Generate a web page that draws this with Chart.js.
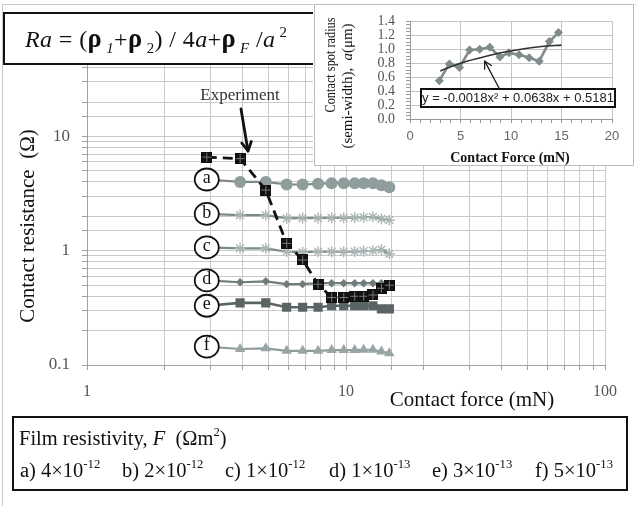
<!DOCTYPE html>
<html>
<head>
<meta charset="utf-8">
<script src="https://cdn.jsdelivr.net/npm/chart.js@4.4.1/dist/chart.umd.min.js"></script>
<style>
html,body{margin:0;padding:0;background:#fff;}
#wrap{position:relative;width:638px;height:513px;overflow:hidden;background:#fff;}
#main{position:absolute;left:0;top:0;}
#inset{position:absolute;left:313px;top:2px;}
</style>
</head>
<body>
<div id="wrap">
<canvas id="main" width="638" height="513"></canvas>
<canvas id="inset" width="322" height="164"></canvas>
</div>
<script>
// ---------- data ----------
const forces = [2.9, 3.9, 4.9, 5.9, 6.8, 7.8, 8.8, 9.8, 10.8, 11.7, 12.7, 13.7, 14.7];
const experiment = [6.6, 6.4, 3.4, 1.16, 0.83, 0.51, 0.39, 0.39, 0.40, 0.40, 0.41, 0.47, 0.50];
const seriesA = [4.2, 4.0, 4.0, 3.8, 3.8, 3.85, 3.9, 3.9, 3.9, 3.9, 3.9, 3.75, 3.6];
const seriesB = [2.1, 2.05, 2.05, 1.92, 1.93, 1.93, 1.94, 1.94, 1.95, 1.96, 1.98, 1.9, 1.85];
const seriesC = [1.07, 1.05, 1.05, 0.98, 0.97, 0.98, 0.98, 0.98, 0.98, 0.99, 1.0, 1.02, 0.94];
const seriesD = [0.55, 0.53, 0.54, 0.51, 0.51, 0.52, 0.52, 0.52, 0.52, 0.52, 0.52, 0.52, 0.50];
const seriesE = [0.33, 0.35, 0.35, 0.32, 0.32, 0.32, 0.33, 0.33, 0.33, 0.33, 0.33, 0.31, 0.31];
const seriesF = [0.145, 0.138, 0.14, 0.133, 0.133, 0.133, 0.135, 0.135, 0.135, 0.136, 0.136, 0.131, 0.127];
const xTickLabels = {1: '1', 10: '10', 100: '100'};
const yTickLabels = {0.1: '0.1', 1: '1', 10: '10'};

const insetForce = [2.9, 3.9, 4.9, 5.9, 6.9, 7.9, 8.9, 9.8, 10.8, 11.8, 12.8, 13.8, 14.7];
const insetRadius = [0.55, 0.79, 0.74, 0.99, 1.0, 1.03, 0.89, 0.95, 0.92, 0.88, 0.83, 1.11, 1.24];
const trendForce = [3, 5, 7, 9, 11, 13, 15];
const trendRadius = [0.69, 0.80, 0.88, 0.95, 1.00, 1.04, 1.06];
const trendLabel = 'y = -0.0018x² + 0.0638x + 0.5181';
const legendTitle = 'Film resistivity, ';
const legendItems = [['a) 4×10', '-12'], ['b) 2×10', '-12'], ['c) 1×10', '-12'], ['d) 1×10', '-13'], ['e) 3×10', '-13'], ['f) 5×10', '-13']];

// ---------- helpers ----------
const SERIF = '"Liberation Serif", "Times New Roman", serif';
const SANS = '"Liberation Sans", Arial, sans-serif';
function pts(xs, ys) { return xs.map((x, i) => ({x: x, y: ys[i]})); }
function rich(ctx, x, y, parts, size, family, color) {
  ctx.fillStyle = color || '#000';
  ctx.textBaseline = 'alphabetic';
  ctx.textAlign = 'left';
  for (const p of parts) {
    const s = (p.sub || p.sup) ? size * 0.62 : size * (p.scale || 1);
    ctx.font = (p.style || '') + ' ' + s + 'px ' + family;
    const dy = p.sub ? size * 0.24 : (p.sup ? -size * 0.42 : 0);
    ctx.fillText(p.t, x, y + dy);
    x += ctx.measureText(p.t).width;
  }
  return x;
}
function arrow(ctx, x1, y1, x2, y2, w, head) {
  ctx.save();
  ctx.strokeStyle = '#111'; ctx.lineWidth = w; ctx.lineCap = 'round'; ctx.lineJoin = 'round';
  const a = Math.atan2(y2 - y1, x2 - x1);
  ctx.beginPath(); ctx.moveTo(x1, y1); ctx.lineTo(x2, y2); ctx.stroke();
  ctx.beginPath();
  ctx.moveTo(x2 - head * Math.cos(a - 0.5), y2 - head * Math.sin(a - 0.5));
  ctx.lineTo(x2, y2);
  ctx.lineTo(x2 - head * Math.cos(a + 0.5), y2 - head * Math.sin(a + 0.5));
  ctx.stroke();
  ctx.restore();
}

// experiment marker: black square with faint grid lines
const expMarker = document.createElement('canvas');
expMarker.width = 11; expMarker.height = 11;
(function () {
  const c = expMarker.getContext('2d');
  c.fillStyle = '#111'; c.fillRect(0, 0, 11, 11);
  c.fillStyle = '#777'; c.fillRect(5, 1, 1, 9); c.fillRect(1, 5, 9, 1);
})();

// ---------- main chart ----------
const overlayMain = {
  id: 'overlayMain',
  afterDatasetsDraw(chart) {
    const ctx = chart.ctx;
    chart.data.datasets.forEach((ds, i) => {
      if (!ds.letter) return;
      const p = chart.getDatasetMeta(i).data[0];
      ctx.save();
      ctx.beginPath(); ctx.ellipse(p.x, p.y, 12, 11, 0, 0, Math.PI * 2);
      ctx.fillStyle = '#fff'; ctx.fill();
      ctx.lineWidth = 1.8; ctx.strokeStyle = '#111'; ctx.stroke();
      ctx.fillStyle = '#111'; ctx.font = '18px ' + SERIF;
      ctx.textAlign = 'center'; ctx.textBaseline = 'middle';
      ctx.fillText(ds.letter, p.x, p.y - 1);
      ctx.restore();
    });
  },
  afterDraw(chart) {
    const ctx = chart.ctx;
    ctx.save();
    // figure frame
    ctx.strokeStyle = '#c8c8c8'; ctx.lineWidth = 1;
    ctx.beginPath(); ctx.moveTo(2.5, 506); ctx.lineTo(2.5, 4.5); ctx.lineTo(636, 4.5); ctx.stroke();
    // formula box
    ctx.fillStyle = '#fff'; ctx.fillRect(3, 12, 312, 53);
    ctx.strokeStyle = '#111'; ctx.lineWidth = 2; ctx.strokeRect(4, 13, 310, 51);
    ctx.save();
    ctx.letterSpacing = '0.4px';
    rich(ctx, 25, 47, [
      {t: 'Ra', style: 'italic'}, {t: ' = ('}, {t: 'ρ', style: 'bold', scale: 1.1}, {t: ' 1', style: 'italic', sub: true},
      {t: '+'}, {t: 'ρ', style: 'bold', scale: 1.1}, {t: ' 2', sub: true}, {t: ') / 4'}, {t: 'a', style: 'italic'},
      {t: '+'}, {t: 'ρ', style: 'bold', scale: 1.1}, {t: ' F', style: 'italic', sub: true}, {t: ' /'},
      {t: 'a', style: 'italic'}, {t: ' 2', sup: true}
    ], 24, SERIF, '#111');
    ctx.restore();
    // Experiment annotation
    ctx.fillStyle = '#333'; ctx.font = '17px ' + SERIF; ctx.textAlign = 'center'; ctx.textBaseline = 'middle';
    ctx.fillText('Experiment', 240, 96);
    arrow(ctx, 241, 109, 248, 151, 2.8, 10);
    // axis titles
    ctx.save();
    ctx.translate(28, 226); ctx.rotate(-Math.PI / 2);
    ctx.fillStyle = '#111'; ctx.font = '21px ' + SERIF; ctx.textAlign = 'center'; ctx.textBaseline = 'middle';
    ctx.fillText('Contact resistance  (Ω)', 0, 0);
    ctx.restore();
    ctx.fillStyle = '#111'; ctx.font = '21px ' + SERIF; ctx.textAlign = 'center'; ctx.textBaseline = 'middle';
    ctx.fillText('Contact force (mN)', 472, 400);
    // legend box
    ctx.strokeStyle = '#111'; ctx.lineWidth = 2; ctx.strokeRect(13, 417, 614, 73);
    rich(ctx, 19, 445, [{t: legendTitle}, {t: 'F', style: 'italic'}, {t: '  (Ωm'}, {t: '2', sup: true}, {t: ')'}], 20.5, SERIF, '#111');
    const starts = [20, 122, 225, 329, 432, 535];
    legendItems.forEach((it, i) => {
      rich(ctx, starts[i], 477, [{t: it[0]}, {t: it[1], sup: true}], 20.5, SERIF, '#111');
    });
    ctx.restore();
  }
};

const gridGray = '#c9c9c9';
function modelDs(letter, data, opts) {
  return Object.assign({
    label: letter, letter: letter, data: pts(forces, data), order: 1,
    borderColor: '#7d8a89', borderWidth: 2.2, pointBorderWidth: 0, tension: 0
  }, opts);
}
new Chart(document.getElementById('main'), {
  type: 'line',
  data: {
    datasets: [
      {label: 'Experiment', data: pts(forces, experiment), order: 0, borderColor: '#111', borderWidth: 2.8,
       borderDash: [10, 6], pointStyle: expMarker, pointRadius: 6},
      modelDs('a', seriesA, {pointStyle: 'circle', pointRadius: 6, pointBackgroundColor: '#8f9d9c'}),
      modelDs('b', seriesB, {pointStyle: 'star', pointRadius: 5.5, pointBorderWidth: 1.4, pointBorderColor: '#aab6b5', pointBackgroundColor: '#aab6b5'}),
      modelDs('c', seriesC, {pointStyle: 'star', pointRadius: 5.5, pointBorderWidth: 1.4, pointBorderColor: '#aab6b5', pointBackgroundColor: '#aab6b5'}),
      modelDs('d', seriesD, {pointStyle: 'rectRot', pointRadius: 4.2, pointBackgroundColor: '#6f7c7b', borderColor: '#6f7c7b'}),
      modelDs('e', seriesE, {pointStyle: 'rect', pointRadius: 6.5, pointBackgroundColor: '#5a6464', borderColor: '#5a6464', borderWidth: 2.6}),
      modelDs('f', seriesF, {pointStyle: 'triangle', pointRadius: 6, pointBackgroundColor: '#97a5a4', borderColor: '#8d9b9a'})
    ]
  },
  options: {
    responsive: false, animation: false, devicePixelRatio: 1,
    layout: {padding: {left: 0, top: 20, right: 33, bottom: 108}},
    plugins: {legend: {display: false}, tooltip: {enabled: false}, title: {display: false}},
    scales: {
      x: {
        type: 'logarithmic', min: 1, max: 100,
        afterFit: s => { s.height = 40; },
        border: {color: '#a0a0a0', width: 1},
        grid: {color: gridGray, tickColor: '#a0a0a0', tickLength: 5, lineWidth: 1},
        ticks: {autoSkip: false, maxRotation: 0, padding: 12, color: '#555', font: {family: SERIF, size: 16},
                callback: v => xTickLabels[v] !== undefined ? xTickLabels[v] : ''}
      },
      y: {
        type: 'logarithmic', min: 0.1, max: 100,
        afterFit: s => { s.width = 87; },
        border: {color: '#a0a0a0', width: 1},
        grid: {color: gridGray, tickColor: '#a0a0a0', tickLength: 5, lineWidth: 1},
        ticks: {autoSkip: false, padding: 12, color: '#555', font: {family: SERIF, size: 17},
                callback: v => yTickLabels[v] !== undefined ? yTickLabels[v] : ''}
      }
    }
  },
  plugins: [overlayMain]
});

// ---------- inset chart ----------
function fittedText(ctx, text, cx, cy, targetW, font) {
  ctx.save();
  ctx.font = font;
  const w = ctx.measureText(text).width;
  ctx.translate(cx, cy); ctx.rotate(-Math.PI / 2); ctx.scale(targetW / w, 1);
  ctx.textAlign = 'center'; ctx.textBaseline = 'middle';
  ctx.fillText(text, 0, 0);
  ctx.restore();
}
const isMult = (v, m) => Math.abs(v / m - Math.round(v / m)) < 1e-6;
const overlayInset = {
  id: 'overlayInset',
  beforeDraw(chart) {
    const ctx = chart.ctx;
    ctx.save();
    ctx.fillStyle = '#fff'; ctx.fillRect(0, 0, chart.width, chart.height);
    ctx.strokeStyle = '#bdbdbd'; ctx.lineWidth = 1; ctx.strokeRect(1.5, 2.5, 319, 161);
    ctx.restore();
  },
  afterDraw(chart) {
    const ctx = chart.ctx;
    ctx.save();
    ctx.fillStyle = '#111';
    fittedText(ctx, 'Contact spot radius', 18, 63, 95, '15px ' + SERIF);
    ctx.save();
    ctx.translate(35, 84); ctx.rotate(-Math.PI / 2);
    const parts = [['(semi-width),  ', '15px '], ['a', 'italic 15px '], ['(μm)', '15px ']];
    let tw = 0; parts.forEach(p => { ctx.font = p[1] + SERIF; tw += ctx.measureText(p[0]).width; });
    ctx.scale(125 / tw, 1);
    let x0 = -tw / 2; ctx.textAlign = 'left'; ctx.textBaseline = 'middle';
    parts.forEach(p => { ctx.font = p[1] + SERIF; ctx.fillText(p[0], x0, 0); x0 += ctx.measureText(p[0]).width; });
    ctx.restore();
    // x title
    ctx.fillStyle = '#111'; ctx.font = 'bold 14px ' + SERIF; ctx.textAlign = 'center'; ctx.textBaseline = 'middle';
    ctx.fillText('Contact Force (mN)', 197, 156);
    // trendline label box + arrow
    const xs = chart.scales.x, ys = chart.scales.y;
    arrow(ctx, 186, 86, xs.getPixelForValue(7.4), ys.getPixelForValue(0.83), 1.2, 8);
    ctx.fillStyle = '#fff'; ctx.fillRect(107, 86, 196, 20);
    ctx.strokeStyle = '#111'; ctx.lineWidth = 2; ctx.strokeRect(108, 87, 194, 18);
    ctx.fillStyle = '#222'; ctx.font = '13px ' + SANS; ctx.textAlign = 'center'; ctx.textBaseline = 'middle';
    ctx.fillText(trendLabel, 205, 96.5);
    ctx.restore();
  }
};
new Chart(document.getElementById('inset'), {
  type: 'line',
  data: {
    datasets: [
      {label: 'trend', data: pts(trendForce, trendRadius), borderColor: '#333', borderWidth: 1.6,
       pointRadius: 0, cubicInterpolationMode: 'monotone', order: 0},
      {label: 'radius', data: pts(insetForce, insetRadius), borderColor: '#7f8c8b', borderWidth: 2.6,
       pointStyle: 'rectRot', pointRadius: 4.5, pointBackgroundColor: '#7f8c8b', pointBorderWidth: 0, order: 1}
    ]
  },
  options: {
    responsive: false, animation: false, devicePixelRatio: 1,
    layout: {padding: {left: 0, top: 17, right: 23, bottom: 17}},
    plugins: {legend: {display: false}, tooltip: {enabled: false}},
    scales: {
      x: {
        type: 'linear', min: 0, max: 20,
        afterFit: s => { s.height = 30; },
        border: {color: '#999'},
        grid: {color: c => (c.tick && isMult(c.tick.value, 5)) ? '#c4c4c4' : 'rgba(0,0,0,0)', tickColor: '#999', tickLength: 4},
        ticks: {stepSize: 1, autoSkip: false, maxRotation: 0, padding: 6, color: '#666', font: {family: SANS, size: 13},
                callback: v => isMult(v, 5) ? String(v) : ''}
      },
      y: {
        type: 'linear', min: 0, max: 1.4,
        afterFit: s => { s.width = 97; },
        border: {color: '#999'},
        grid: {color: c => (c.tick && isMult(c.tick.value, 0.2)) ? '#c4c4c4' : 'rgba(0,0,0,0)', tickColor: '#999', tickLength: 4},
        ticks: {stepSize: 0.05, autoSkip: false, padding: 11, color: '#555', font: {family: SERIF, size: 14},
                callback: v => isMult(v, 0.2) ? Number(v).toFixed(1) : ''}
      }
    }
  },
  plugins: [overlayInset]
});
</script>
</body>
</html>
